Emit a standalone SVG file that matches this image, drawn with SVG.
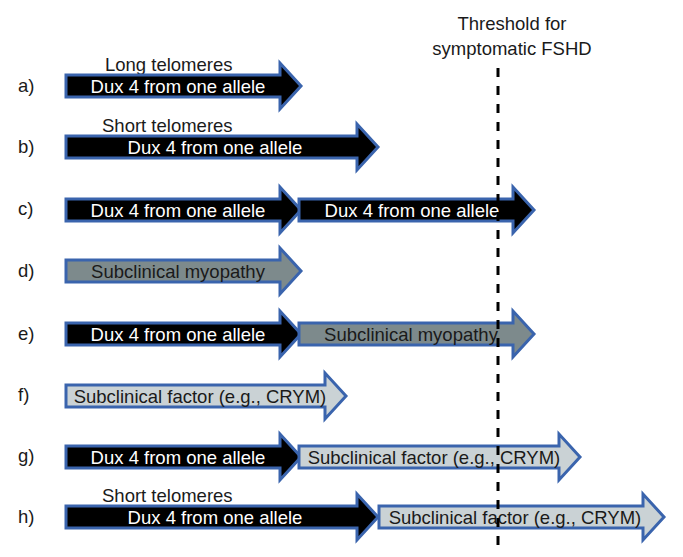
<svg xmlns="http://www.w3.org/2000/svg" width="683" height="557" viewBox="0 0 683 557">
<style>
  text { font-family: "Liberation Sans", Arial, sans-serif; font-size: 18.5px; }
  .lbl { fill: #1a1a1a; }
  .w { fill: #ffffff; text-anchor: middle; }
  .d { fill: #1a1a1a; text-anchor: middle; }
  .t { fill: #1a1a1a; text-anchor: middle; }
  .ar { stroke: #3a64ad; stroke-width: 3; stroke-linejoin: miter; }
  .blk { fill: #000000; }
  .gry { fill: #7d8a8c; }
  .lgt { fill: #cad2d5; }
  .thr { stroke: #000000; stroke-width: 3; stroke-dasharray: 9 9; fill: none; }
</style>
<rect width="683" height="557" fill="#ffffff"/>

<g id="threshold-label">
  <text class="t" x="512" y="30">Threshold for</text>
  <text class="t" x="512" y="55">symptomatic FSHD</text>
</g>

<g id="row-a">
  <text class="lbl" x="18" y="92">a)</text>
  <text class="lbl" x="105" y="71">Long telomeres</text>
  <path class="ar blk" d="M66,75 H280 V63 L301,86 L280,109 V97 H66 Z"/>
  <text class="w" x="178" y="93">Dux 4 from one allele</text>
</g>

<g id="row-b">
  <text class="lbl" x="18" y="153">b)</text>
  <text class="lbl" x="102" y="132">Short telomeres</text>
  <path class="ar blk" d="M66,136 H357 V124 L378,147 L357,170 V158 H66 Z"/>
  <text class="w" x="215" y="154">Dux 4 from one allele</text>
</g>

<g id="row-c">
  <text class="lbl" x="18" y="215">c)</text>
  <path class="ar blk" d="M66,199 H280 V187 L301,210 L280,233 V221 H66 Z"/>
  <text class="w" x="178" y="217">Dux 4 from one allele</text>
  <path class="ar blk" d="M299,199 H513 V187 L534,210 L513,233 V221 H299 Z"/>
  <text class="w" x="412" y="217">Dux 4 from one allele</text>
</g>

<g id="row-d">
  <text class="lbl" x="18" y="277">d)</text>
  <path class="ar gry" d="M66,260 H280 V248 L301,271 L280,294 V282 H66 Z"/>
  <text class="d" x="178" y="278">Subclinical myopathy</text>
</g>

<g id="row-e">
  <text class="lbl" x="18" y="340">e)</text>
  <path class="ar blk" d="M66,323 H280 V311 L301,334 L280,357 V345 H66 Z"/>
  <text class="w" x="178" y="341">Dux 4 from one allele</text>
  <path class="ar gry" d="M299,323 H513 V311 L534,334 L513,357 V345 H299 Z"/>
  <text class="d" x="411" y="341">Subclinical myopathy</text>
</g>

<g id="row-f">
  <text class="lbl" x="18" y="401">f)</text>
  <path class="ar lgt" d="M66,385 H325 V373 L346,396 L325,419 V407 H66 Z"/>
  <text class="d" x="200" y="403">Subclinical factor (e.g., CRYM)</text>
</g>

<g id="row-g">
  <text class="lbl" x="18" y="462">g)</text>
  <path class="ar blk" d="M66,446 H280 V434 L301,457 L280,480 V468 H66 Z"/>
  <text class="w" x="178" y="464">Dux 4 from one allele</text>
  <path class="ar lgt" d="M299,446 H559 V434 L580,457 L559,480 V468 H299 Z"/>
  <text class="d" x="434" y="464">Subclinical factor (e.g., CRYM)</text>
</g>

<g id="row-h">
  <text class="lbl" x="18" y="523">h)</text>
  <text class="lbl" x="102" y="502">Short telomeres</text>
  <path class="ar blk" d="M66,506 H357 V494 L378,517 L357,540 V528 H66 Z"/>
  <text class="w" x="215" y="524">Dux 4 from one allele</text>
  <path class="ar lgt" d="M379,506 H643 V494 L664,517 L643,540 V528 H379 Z"/>
  <text class="d" x="515" y="524">Subclinical factor (e.g., CRYM)</text>
</g>

<g id="connectors">
  <line class="thr" x1="498" y1="68" x2="498" y2="545"/>
</g>
</svg>
